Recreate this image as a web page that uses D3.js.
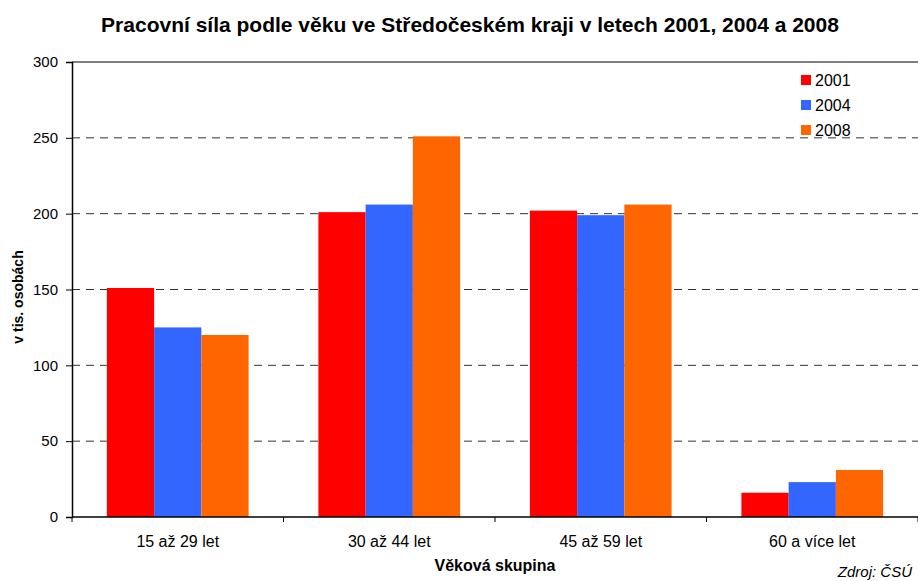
<!DOCTYPE html>
<html lang="cs">
<head>
<meta charset="utf-8">
<title>Pracovní síla</title>
<script src="https://cdn.jsdelivr.net/npm/d3@7"></script>
<style>
  body { margin: 0; background: #fff; }
  text { font-family: "Liberation Sans", Arial, sans-serif; fill: #000; }
  .grid line { stroke: #333; stroke-dasharray: 8 6; }
</style>
</head>
<body>
<script>
// data
var categories = ["15 až 29 let", "30 až 44 let", "45 až 59 let", "60 a více let"];
var years = ["2001", "2004", "2008"];
var v2001 = [151, 201, 202, 16];
var v2004 = [125, 206, 199, 23];
var v2008 = [120, 251, 206, 31];
var yTicks = [0, 50, 100, 150, 200, 250, 300];
var colors = ["#ff0000", "#3366ff", "#ff6600"];

var w = 918, h = 581;
var m = {top: 62, right: 0, bottom: 64, left: 72};
var iw = w - m.left - m.right, ih = h - m.top - m.bottom;

var series = [v2001, v2004, v2008];
var rows = categories.map(function(c, i){
  return {cat: c, vals: series.map(function(s, j){ return {year: years[j], value: s[i]}; })};
});

var svg = d3.select("body").append("svg").attr("width", w).attr("height", h);
var g = svg.append("g").attr("transform", "translate(" + m.left + "," + m.top + ")");

var x0 = d3.scaleBand().domain(categories).range([0, iw]).paddingInner(0.33).paddingOuter(0.165);
var x1 = d3.scaleBand().domain(years).range([0, x0.bandwidth()]);
var y = d3.scaleLinear().domain([0, 300]).range([ih, 0]);

// dashed grid
g.append("g").attr("class", "grid")
  .selectAll("line").data(yTicks.filter(function(t){ return t > 0 && t < 300; }))
  .enter().append("line")
  .attr("x1", 0).attr("x2", iw)
  .attr("y1", function(d){ return y(d); }).attr("y2", function(d){ return y(d); });

// top border
g.append("line").attr("x1", 0).attr("x2", iw).attr("y1", 0).attr("y2", 0)
  .attr("stroke", "#000").attr("stroke-width", 1);

// bars
g.selectAll(".grp").data(rows).enter().append("g")
  .attr("transform", function(d){ return "translate(" + x0(d.cat) + ",0)"; })
  .selectAll("rect").data(function(d){ return d.vals; })
  .enter().append("rect")
  .attr("x", function(d){ return x1(d.year); })
  .attr("width", x1.bandwidth())
  .attr("y", function(d){ return y(d.value); })
  .attr("height", function(d){ return ih - y(d.value); })
  .attr("fill", function(d, i){ return colors[i]; });

// y axis
var yAxis = g.append("g").call(d3.axisLeft(y).tickValues(yTicks).tickSize(6).tickPadding(8));
yAxis.selectAll("text").style("font-size", "15px").style("font-family", "Liberation Sans, Arial, sans-serif");
yAxis.select(".domain").attr("stroke-width", 1.5);

// x axis with ticks at band boundaries
var xa = g.append("g").attr("transform", "translate(0," + ih + ")");
xa.append("line").attr("x1", 0).attr("x2", iw).attr("stroke", "#000").attr("stroke-width", 1.5);
xa.selectAll(".tk").data(d3.range(categories.length + 1)).enter().append("line")
  .attr("x1", function(i){ return i * iw / categories.length; })
  .attr("x2", function(i){ return i * iw / categories.length; })
  .attr("y1", 0).attr("y2", 5).attr("stroke", "#000");
xa.selectAll(".lbl").data(categories).enter().append("text")
  .attr("x", function(d){ return x0(d) + x0.bandwidth() / 2; })
  .attr("y", 30).attr("text-anchor", "middle").style("font-size", "16px")
  .text(function(d){ return d; });

// legend
var lg = svg.append("g").attr("transform", "translate(801,75)");
years.forEach(function(yr, i){
  lg.append("rect").attr("x", 0).attr("y", i * 25).attr("width", 10).attr("height", 10).attr("fill", colors[i]);
  lg.append("text").attr("x", 14).attr("y", i * 25 + 11).style("font-size", "16px").text(yr);
});

// titles
svg.append("text").attr("x", 470).attr("y", 32).attr("text-anchor", "middle")
  .style("font-size", "21px").style("font-weight", "bold")
  .text("Pracovní síla podle věku ve Středočeském kraji v letech 2001, 2004 a 2008");
svg.append("text").attr("transform", "translate(23,297) rotate(-90)")
  .attr("text-anchor", "middle").style("font-size", "14px").style("font-weight", "bold")
  .text("v tis. osobách");
svg.append("text").attr("x", 495).attr("y", 571).attr("text-anchor", "middle")
  .style("font-size", "16px").style("font-weight", "bold").text("Věková skupina");
svg.append("text").attr("x", 912).attr("y", 577).attr("text-anchor", "end")
  .style("font-size", "15px").style("font-style", "italic").text("Zdroj: ČSÚ");
</script>
</body>
</html>
